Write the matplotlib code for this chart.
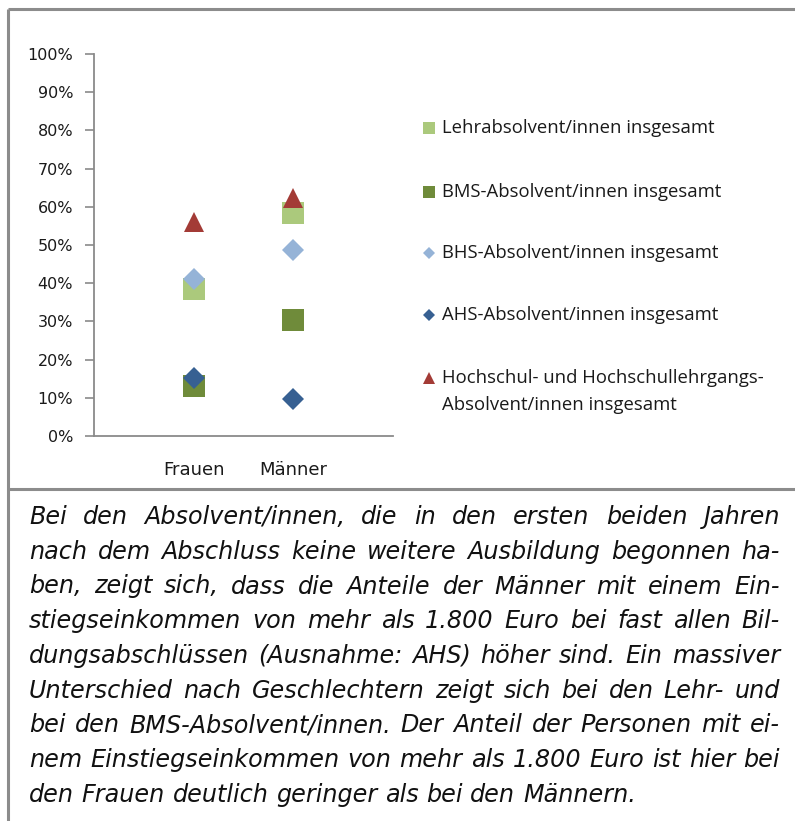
import matplotlib.pyplot as plt
from matplotlib.ticker import PercentFormatter

groups = ['Frauen', 'Männer']
series_names = ['Lehrabsolvent/innen insgesamt',
                'BMS-Absolvent/innen insgesamt',
                'BHS-Absolvent/innen insgesamt',
                'AHS-Absolvent/innen insgesamt',
                'Hochschul- und Hochschullehrgangs-\nAbsolvent/innen insgesamt']
lehr = [38.6, 58.5]
bms = [13.2, 30.3]
bhs = [41.0, 48.7]
ahs = [15.3, 9.8]
hochschul = [56.0, 62.2]
values = [lehr, bms, bhs, ahs, hochschul]

colors = ['#abc97c', '#6f8b3a', '#95b3d7', '#376092', '#a33b36']
markers = ['s', 's', 'D', 'D', '^']
sizes = [15.5, 15.5, 11, 11, 15]

paragraph = [
    'Bei den Absolvent/innen, die in den ersten beiden Jahren',
    'nach dem Abschluss keine weitere Ausbildung begonnen ha-',
    'ben, zeigt sich, dass die Anteile der Männer mit einem Ein-',
    'stiegseinkommen von mehr als 1.800 Euro bei fast allen Bil-',
    'dungsabschlüssen (Ausnahme: AHS) höher sind. Ein massiver',
    'Unterschied nach Geschlechtern zeigt sich bei den Lehr- und',
    'bei den BMS-Absolvent/innen. Der Anteil der Personen mit ei-',
    'nem Einstiegseinkommen von mehr als 1.800 Euro ist hier bei',
    'den Frauen deutlich geringer als bei den Männern.',
]

W, H = 795, 821
fig = plt.figure(figsize=(W / 100, H / 100), dpi=100)

ax = fig.add_axes([94 / W, 1 - 436 / H, (393 - 94) / W, (436 - 54) / H])
xpos = [1, 2]
for vals, c, m, s in zip(values, colors, markers, sizes):
    ax.plot(xpos, vals, linestyle='none', marker=m, markersize=s,
            color=c, markeredgewidth=0, clip_on=False)
ax.set_xlim(0, 3)
ax.set_ylim(0, 100)
ax.set_yticks(range(0, 101, 10))
ax.yaxis.set_major_formatter(PercentFormatter(decimals=0))
ax.set_xticks(xpos)
ax.set_xticklabels(groups)
for side in ['top', 'right']:
    ax.spines[side].set_visible(False)
for side in ['left', 'bottom']:
    ax.spines[side].set_color('#8a8a8a')
    ax.spines[side].set_linewidth(1.3)
ax.tick_params(axis='y', direction='out', length=6.5, width=1.2, color='#8a8a8a',
               pad=8.5, labelsize=11.5, labelcolor='#1a1a1a')
ax.tick_params(axis='x', length=0, pad=18, labelsize=13, labelcolor='#1a1a1a')

# overlay in pixel coordinates for frame, legend and paragraph
ov = fig.add_axes([0, 0, 1, 1])
ov.set_xlim(0, W)
ov.set_ylim(H, 0)
ov.axis('off')
frame = dict(color='#8c8c8c', linewidth=2.2, solid_capstyle='butt')
ov.plot([8, W], [9.5, 9.5], **frame)
ov.plot([8, 8], [9.5, H], **frame)
ov.plot([8, W], [489.5, 489.5], **frame)

# legend
leg_y = [128, 192, 253, 315, 378]
for name, c, m, y in zip(series_names, colors, markers, leg_y):
    ov.plot([429], [y], linestyle='none', marker=m, color=c,
            markersize=9 if m != 'D' else 6.5, markeredgewidth=0)
    for k, part in enumerate(name.split('\n')):
        ov.text(442, y + 27 * k, part, family='Open Sans', fontsize=13.3,
                color='#1a1a1a', va='center')

# justified italic paragraph
fig.canvas.draw()
renderer = fig.canvas.get_renderer()
left, right = 29, 780
y0, step = 517, 34.75
fs = 17.2
for i, line in enumerate(paragraph):
    y = y0 + i * step
    words = line.split(' ')
    arts = [ov.text(0, y, w, fontsize=fs, style='italic', family='DejaVu Sans',
                    color='#111111', va='center', ha='left') for w in words]
    widths = [a.get_window_extent(renderer).width for a in arts]
    if i < len(paragraph) - 1 and len(words) > 1:
        gap = ((right - left) - sum(widths)) / (len(words) - 1)
    else:
        sp = ov.text(0, 0, 'a a', fontsize=fs, style='italic')
        sp2 = ov.text(0, 0, 'aa', fontsize=fs, style='italic')
        gap = sp.get_window_extent(renderer).width - sp2.get_window_extent(renderer).width
        sp.remove()
        sp2.remove()
    x = left
    for a, w in zip(arts, widths):
        a.set_x(x)
        x += w + gap

fig.savefig('out.png', dpi=100)
